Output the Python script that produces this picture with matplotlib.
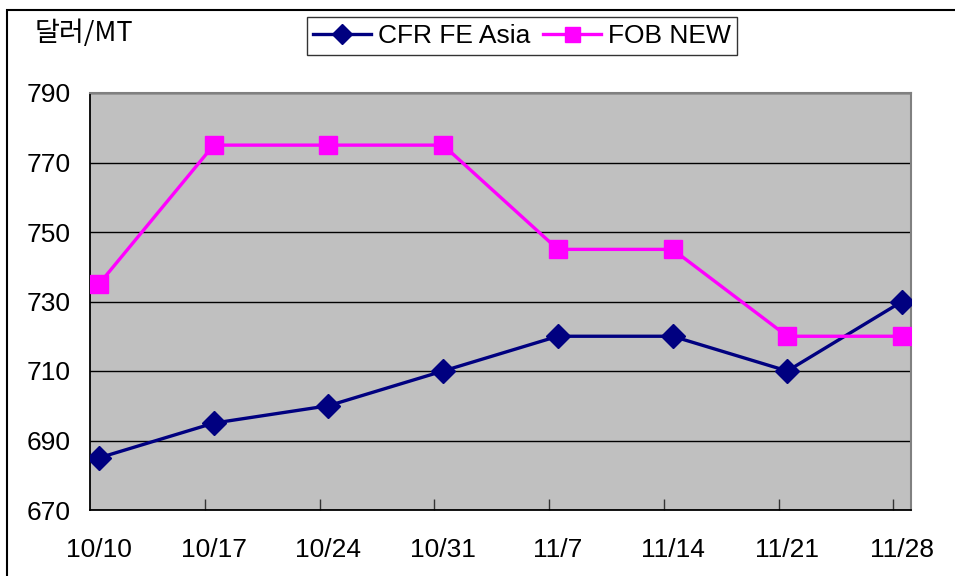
import matplotlib
matplotlib.use("Agg")
import matplotlib.pyplot as plt
from matplotlib.patches import Rectangle

categories = ["10/10", "10/17", "10/24", "10/31", "11/7", "11/14", "11/21", "11/28"]
cfr_fe_asia = [685, 695, 700, 710, 720, 720, 710, 730]
fob_new = [735, 775, 775, 775, 745, 745, 720, 720]
y_ticks = [670, 690, 710, 730, 750, 770, 790]

plt.rcParams['font.family'] = ['Liberation Sans', 'Noto Sans CJK KR', 'DejaVu Sans']

fig = plt.figure(figsize=(9.55, 5.76), dpi=100)
ax = fig.add_axes([90/955, 1-510/576, (911-90)/955, (510-93)/576])
ax.set_facecolor('#C0C0C0')

x = list(range(len(categories)))
ax.plot(x, cfr_fe_asia, color='#000080', lw=2.4, marker='D', ms=12.5,
        markerfacecolor='#000080', markeredgecolor='#000080', label='CFR FE Asia', zorder=3)
ax.plot(x, fob_new, color='#FF00FF', lw=2.4, marker='s', ms=13.5,
        markerfacecolor='#FF00FF', markeredgecolor='#FF00FF', label='FOB NEW', zorder=3)

ax.set_ylim(670, 790)
ax.set_yticks(y_ticks)
ax.set_xlim(-0.078, len(categories) - 1 + 0.078)
ax.set_xticks(x)
ax.set_xticklabels(categories)
ax.set_xticks([i - 0.076 for i in range(1, len(categories))], minor=True)
ax.tick_params(axis='x', which='major', length=0, pad=20, labelsize=19)
ax.tick_params(axis='x', which='minor', direction='in', length=8, width=1, color='#333333')
ax.tick_params(axis='y', which='major', direction='in', length=0, pad=14, labelsize=19)

ax.grid(axis='y', color='black', lw=1)
ax.set_axisbelow(True)
for s in ['left', 'bottom']:
    ax.spines[s].set_color('black')
    ax.spines[s].set_linewidth(1.3)
for s in ['top', 'right']:
    ax.spines[s].set_color('#808080')
    ax.spines[s].set_linewidth(1.5)

fig.text(35/955, 1-33/576, '달러/MT', fontsize=19.5, va='center', ha='left',
         family=['Noto Sans CJK KR', 'DejaVu Sans'])

leg = fig.legend(loc='center', bbox_to_anchor=(522/955, 1-36/576), ncol=2,
                 fontsize=19, frameon=True, fancybox=False, edgecolor='black',
                 handlelength=2.2, handletextpad=0.25, columnspacing=0.5,
                 borderpad=0.25, markerscale=0.8)
leg.get_frame().set_linewidth(1.0)

fig.add_artist(Rectangle((7/955, -0.1), 1.2, 1-10/576 + 0.1, transform=fig.transFigure,
                         fill=False, edgecolor='black', lw=1.5))

fig.savefig('out.png', dpi=100)
